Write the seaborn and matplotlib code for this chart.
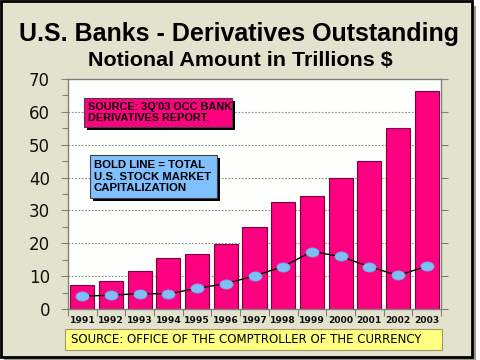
import matplotlib
matplotlib.use("Agg")
import matplotlib.pyplot as plt
import seaborn as sns
import pandas as pd
import numpy as np
from matplotlib.patches import Rectangle
from matplotlib.path import Path

years = ["1991", "1992", "1993", "1994", "1995", "1996", "1997",
         "1998", "1999", "2000", "2001", "2002", "2003"]
derivatives = [7.2, 8.6, 11.6, 15.5, 16.6, 19.9, 24.9, 32.7, 34.3, 40.0, 45.0, 55.2, 66.2]
stock_cap = [3.9, 4.2, 4.7, 4.6, 6.3, 7.7, 10.1, 12.9, 17.5, 16.0, 12.9, 10.2, 13.0]
y_ticks = [0, 10, 20, 30, 40, 50, 60, 70]

df = pd.DataFrame({"year": years, "deriv": derivatives, "cap": stock_cap})

sns.set_theme(style="white")
plt.rcParams['font.family'] = ['DejaVu Sans']

W, H = 480, 360
fig = plt.figure(figsize=(4.8, 3.6), dpi=100)
BG = "#E3E3CD"
fig.patch.set_facecolor("white")
renderer = fig.canvas.get_renderer()
BOLDF = "Liberation Sans"


def fit(txt, target_w):
    bb = txt.get_window_extent(renderer=renderer)
    txt.set_fontsize(txt.get_fontsize() * target_w / bb.width)
    return txt


# outer frame with shadow
fig.patches.append(Rectangle((4 / W, 0), 472 / W, 1 - 6 / H, transform=fig.transFigure,
                             facecolor="#9a9a90", edgecolor="none", zorder=-3))
fig.patches.append(Rectangle((1 / W, 3 / H), 471 / W, 1 - 4 / H, transform=fig.transFigure,
                             facecolor=BG, edgecolor="black", linewidth=2, zorder=-2))

ax = fig.add_axes([68 / W, 1 - 309 / H, (441 - 68) / W, (309 - 79) / H])
ax.set_facecolor("#FCFFFC")

sns.barplot(data=df, x="year", y="deriv", order=years, color="#FF0080",
            saturation=1, width=0.84, edgecolor="#7a0040", linewidth=0.8, ax=ax, zorder=2)

# ellipse marker
t = np.linspace(0, 2 * np.pi, 40)
ell = Path(np.column_stack([np.cos(t), 0.7 * np.sin(t)]), closed=True)

sns.lineplot(data=df, x="year", y="cap", color="black", linewidth=1.0, ax=ax,
             marker=ell, markersize=9.5, markerfacecolor="#7EBFF5",
             markeredgecolor="#6aa8e0", markeredgewidth=0.5, sort=False, zorder=3)

ax.set_ylim(0, 70)
ax.set_xlim(-0.5, len(years) - 0.5)
ax.set_yticks(y_ticks)
ax.set_yticklabels([str(v) for v in y_ticks], fontsize=12, color="#111111")
ax.set_yticks(np.arange(5, 70, 10), minor=True)
ax.set_xlabel("")
ax.set_ylabel("")
ax.set_xticks(range(len(years)))
ax.set_xticklabels(years, fontsize=6.6, fontweight="bold", color="#111111")
for v in y_ticks[1:-1]:
    ax.axhline(v, color="#8a8a8a", linestyle=(0, (1.5, 1.5)), linewidth=0.8, zorder=1)
ax.tick_params(axis="y", which="major", direction="out", length=5, width=0.8,
               color="#808080", left=True, right=True, pad=8)
ax.tick_params(axis="y", which="minor", direction="out", length=4, width=0.8,
               color="#808080", left=True)
ax.tick_params(axis="x", which="both", length=0, pad=5)
ax.set_xticks(np.arange(-0.5, len(years), 1), minor=True)
ax.tick_params(axis="x", which="minor", direction="out", length=5, width=0.8,
               color="#808080", bottom=True)
for s in ax.spines.values():
    s.set_color("#808080")
    s.set_linewidth(1.0)

# titles
t1 = fig.text(19 / W, 1 - 41.5 / H, "U.S. Banks - Derivatives Outstanding", ha="left", va="baseline",
              fontsize=17, fontweight="bold", color="black", family=BOLDF)
fit(t1, 442)
t2 = fig.text(88 / W, 1 - 66.5 / H, "Notional Amount in Trillions $", ha="left", va="baseline",
              fontsize=12.5, fontweight="bold", color="black", family=BOLDF)
fit(t2, 304)


# annotation boxes with shadow
def box(x0, y0, x1, y1, fc, ec, shadow=True):
    if shadow:
        fig.patches.append(Rectangle((x0 / W + 3 / W, 1 - y1 / H - 3 / H), (x1 - x0) / W, (y1 - y0) / H,
                                     transform=fig.transFigure, facecolor="black",
                                     edgecolor="none", zorder=5))
    fig.patches.append(Rectangle((x0 / W, 1 - y1 / H), (x1 - x0) / W, (y1 - y0) / H,
                                 transform=fig.transFigure, facecolor=fc,
                                 edgecolor=ec, linewidth=0.8, zorder=6))


box(84, 98, 232, 127, "#FF0080", "#404040")
a1 = fig.text(88 / W, 1 - 112.5 / H, "SOURCE: 3Q'03 OCC BANK\nDERIVATIVES REPORT.", ha="left",
              va="center", fontsize=7.3, fontweight="bold", color="black", linespacing=1.15,
              zorder=7, family=BOLDF)
fit(a1, 143)
box(90, 155, 217, 198, "#80C0FF", "#404040")
a2 = fig.text(94 / W, 1 - 176.5 / H, "BOLD LINE = TOTAL\nU.S. STOCK MARKET\nCAPITALIZATION", ha="left",
              va="center", fontsize=7.3, fontweight="bold", color="black", linespacing=1.15,
              zorder=7, family=BOLDF)
fit(a2, 117)

box(65, 329, 442, 350, "#FFFF80", "#9a9a70", shadow=False)
a3 = fig.text(71 / W, 1 - 339.5 / H, "SOURCE: OFFICE OF THE COMPTROLLER OF THE CURRENCY",
              ha="left", va="center", fontsize=8.6, color="black", zorder=7)
fit(a3, 347)

fig.savefig("out.png", dpi=100, facecolor=fig.get_facecolor())
